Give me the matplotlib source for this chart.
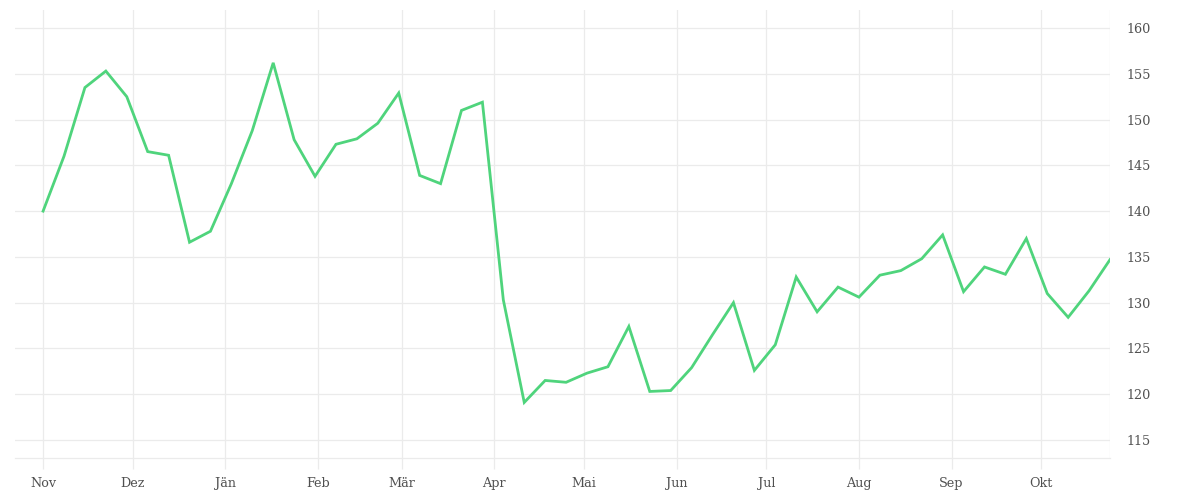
import matplotlib
matplotlib.use("Agg")
import matplotlib.pyplot as plt
import matplotlib.dates as mdates
import numpy as np
import pandas as pd

start_date = "2022-11-01"
values = [140.0, 146.0, 153.5, 155.3, 152.5, 146.5, 146.1, 136.6, 137.8, 143.0,
          148.8, 156.2, 147.8, 143.8, 147.3, 147.9, 149.6, 152.9, 143.9, 143.0,
          151.0, 151.9, 130.3, 119.1, 121.5, 121.3, 122.3, 123.0, 127.4, 120.3,
          120.4, 122.9, 126.5, 130.0, 122.6, 125.4, 132.8, 129.0, 131.7, 130.6,
          133.0, 133.5, 134.8, 137.4, 131.2, 133.9, 133.1, 137.0, 131.0, 128.4,
          131.3, 134.7]
month_labels = ["Nov", "Dez", "Jän", "Feb", "Mär", "Apr", "Mai", "Jun", "Jul", "Aug", "Sep", "Okt"]
y_ticks = [115, 120, 125, 130, 135, 140, 145, 150, 155, 160]

dates = pd.date_range(start_date, periods=len(values), freq="7D")
month_starts = pd.date_range(start_date, periods=len(month_labels), freq="MS")

fig = plt.figure(figsize=(12, 5), dpi=100)
ax = fig.add_axes([15/1200, 1-458/500, (1110-15)/1200, (458-10)/500])

grid_c = "#ebebeb"
ax.plot(dates, values, color="#4fd47c", lw=2.0, solid_joinstyle="miter", zorder=3)

ax.set_xlim(dates[0] - pd.Timedelta(days=9.4), dates[-1])
ax.set_ylim(113.03, 161.97)

ax.set_xticks(month_starts)
ax.set_xticklabels(month_labels)
ax.set_yticks(y_ticks)
ax.yaxis.tick_right()

for v in y_ticks:
    ax.axhline(v, color=grid_c, lw=0.9, zorder=1)
for d in list(month_starts) + [dates[-1]]:
    ax.axvline(d, color=grid_c, lw=0.9, zorder=1)

for s in ["top", "left", "right"]:
    ax.spines[s].set_visible(False)
ax.spines["bottom"].set_color(grid_c)
ax.spines["bottom"].set_linewidth(0.9)

ax.tick_params(axis="x", length=8, width=0.9, color=grid_c, pad=6,
               labelsize=9.2, labelcolor="#505050")
ax.tick_params(axis="y", length=0, pad=12, labelsize=9.2, labelcolor="#505050")
for lab in ax.get_xticklabels() + ax.get_yticklabels():
    lab.set_family("DejaVu Serif")

fig.savefig("out.png", dpi=100, facecolor="white")
